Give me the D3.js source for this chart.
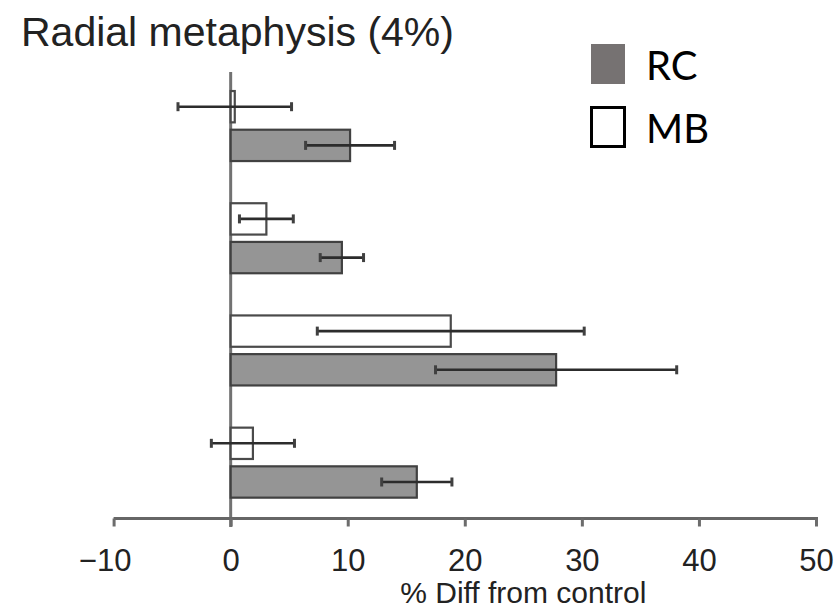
<!DOCTYPE html>
<html>
<head>
<meta charset="utf-8">
<script src="https://cdn.jsdelivr.net/npm/d3@7"></script>
<style>
  html, body { margin: 0; padding: 0; background: #fff; }
  svg { display: block; }
</style>
</head>
<body>
<svg id="chart" width="836" height="610"></svg>
<script>
// Percent difference from control, per group, for the two treatments
const groups = ["Group 1", "Group 2", "Group 3", "Group 4"];
const seriesNames = ["MB", "RC"];
const mbValues = [0.35, 3.05, 18.8, 1.9];
const mbErrors = [4.85, 2.3, 11.4, 3.55];
const rcValues = [10.2, 9.5, 27.8, 15.9];
const rcErrors = [3.8, 1.85, 10.3, 3.0];
const xTicks = [-10, 0, 10, 20, 30, 40, 50];
const legendItems = ["RC", "MB"];

const svg = d3.select("#chart");

const x = d3.scaleLinear().domain([-10, 50]).range([113.6, 816]);
const y = d3.scaleBand().domain(groups).range([73, 518])
  .paddingInner(0.376).paddingOuter(0.171).align(0.47);
const ySub = d3.scaleBand().domain(seriesNames).range([0, y.bandwidth()])
  .paddingInner(0.19).paddingOuter(0);

const rows = [];
groups.forEach((g, i) => {
  rows.push({ group: g, series: "MB", value: mbValues[i], err: mbErrors[i] });
  rows.push({ group: g, series: "RC", value: rcValues[i], err: rcErrors[i] });
});

const style = {
  MB: { fill: "#ffffff", stroke: "#4a4a4a" },
  RC: { fill: "#959595", stroke: "#414141" }
};

// Title
svg.append("text")
  .attr("x", 21).attr("y", 46)
  .attr("font-family", "'Liberation Sans', Arial, sans-serif")
  .attr("font-size", 41)
  .attr("fill", "#222")
  .text("Radial metaphysis (4%)");

// Vertical zero line
svg.append("line")
  .attr("x1", x(0)).attr("x2", x(0))
  .attr("y1", 72).attr("y2", 527)
  .attr("stroke", "#727272").attr("stroke-width", 3);

// X axis
const xAxis = d3.axisBottom(x)
  .tickValues(xTicks)
  .tickSize(8)
  .tickPadding(22)
  .tickFormat(d3.format("d"));

const gx = svg.append("g")
  .attr("transform", "translate(0,518.5)")
  .call(xAxis);
gx.select(".domain")
  .attr("d", `M${x(-10)},0H${x(50) + 2}`)
  .attr("stroke", "#666").attr("stroke-width", 3.2);
gx.selectAll(".tick line").attr("stroke", "#6c6c6c").attr("stroke-width", 3);
gx.selectAll(".tick text")
  .attr("font-family", "'Liberation Sans', Arial, sans-serif")
  .attr("font-size", 31)
  .attr("fill", "#222")
  .attr("dx", d => d < 0 ? -9 : 0);

// X axis title
svg.append("text")
  .attr("x", x(25)).attr("y", 603)
  .attr("text-anchor", "middle")
  .attr("font-family", "'Liberation Sans', Arial, sans-serif")
  .attr("font-size", 30)
  .attr("fill", "#222")
  .text("% Diff from control");

// Bars
const barG = svg.append("g");
barG.selectAll("rect")
  .data(rows)
  .join("rect")
  .attr("x", d => x(Math.min(0, d.value)))
  .attr("y", d => y(d.group) + ySub(d.series))
  .attr("width", d => Math.abs(x(d.value) - x(0)))
  .attr("height", ySub.bandwidth())
  .attr("fill", d => style[d.series].fill)
  .attr("stroke", d => style[d.series].stroke)
  .attr("stroke-width", 2.2);

// Error bars
const errG = svg.append("g");
const errRows = errG.selectAll("g")
  .data(rows)
  .join("g")
  .attr("transform", d => `translate(0,${y(d.group) + ySub(d.series) + ySub.bandwidth() / 2})`);
errRows.append("line")
  .attr("x1", d => x(d.value - d.err))
  .attr("x2", d => x(d.value + d.err))
  .attr("stroke", "#2c2c2c").attr("stroke-width", 2.6);
errRows.selectAll("line.cap")
  .data(d => [d.value - d.err, d.value + d.err])
  .join("line")
  .attr("class", "cap")
  .attr("x1", v => x(v)).attr("x2", v => x(v))
  .attr("y1", -4.5).attr("y2", 4.5)
  .attr("stroke", "#404040").attr("stroke-width", 3);

// Legend
const legend = svg.append("g");
const legendY = d3.scalePoint().domain(legendItems).range([64, 127]);
legend.selectAll("rect")
  .data(legendItems)
  .join("rect")
  .attr("x", d => d === "RC" ? 591 : 591.5)
  .attr("y", d => d === "RC" ? legendY(d) - 20 : legendY(d) - 19.5)
  .attr("width", d => d === "RC" ? 34 : 33)
  .attr("height", d => d === "RC" ? 40 : 39)
  .attr("fill", d => d === "RC" ? "#767272" : "#ffffff")
  .attr("stroke", d => d === "RC" ? "none" : "#000")
  .attr("stroke-width", 3);
legend.selectAll("text")
  .data(legendItems)
  .join("text")
  .attr("x", 646)
  .attr("y", d => legendY(d) + 16)
  .attr("font-family", "Lato, 'Open Sans', sans-serif")
  .attr("font-size", 40)
  .attr("fill", "#000")
  .text(d => d);
</script>
</body>
</html>
